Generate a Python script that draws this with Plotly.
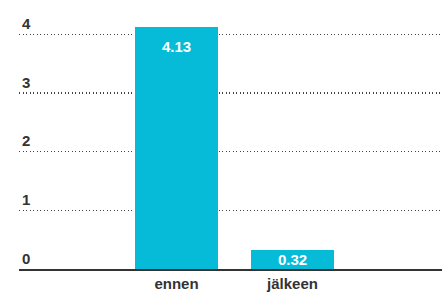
import plotly.graph_objects as go

categories = ["ennen", "jälkeen"]
values = [4.13, 0.32]
value_labels = ["4.13", "0.32"]
y_ticks = [0, 1, 2, 3, 4]
y_ticktext = ["0", "1", "2", "3", "4"]

bar_color = "#05bbd7"
text_color = "#333333"
font_family = "Liberation Sans, Arial, sans-serif"

fig = go.Figure()
fig.add_trace(go.Bar(
    x=categories,
    y=values,
    marker=dict(color=bar_color, line=dict(width=0)),
    width=0.716,
    hoverinfo="skip",
))

# value labels inside bars
for c, v, t in zip(categories, values, value_labels):
    fig.add_annotation(
        x=c, y=max(v - 0.34, v / 2), text="<b>" + t + "</b>",
        showarrow=False, yanchor="middle", xanchor="center",
        font=dict(color="white", size=15, family=font_family),
    )

fig.update_layout(
    width=442, height=296,
    margin=dict(l=19, r=0, t=5, b=27),
    paper_bgcolor="white", plot_bgcolor="white",
    showlegend=False,
    bargap=0,
    font=dict(family=font_family, color=text_color, size=15),
    xaxis=dict(
        type="category",
        range=[-1.358, 2.289],
        showgrid=False, zeroline=False,
        showline=True, linecolor="#333333", linewidth=2,
        ticks="", tickfont=dict(size=15, color=text_color, weight="bold"),
        ticklabelstandoff=0,
    ),
    yaxis=dict(
        range=[0, 4.5],
        tickvals=y_ticks, ticktext=y_ticktext,
        ticklabelposition="inside top",
        showgrid=True, gridcolor="#444444", gridwidth=1.2, griddash="1px,2.5px",
        zeroline=False, showline=False, ticks="",
        tickfont=dict(size=15, color=text_color, weight="bold"),
    ),
)

fig.write_html(
    "out.html",
    config={"displayModeBar": False, "staticPlot": True},
    post_script="document.body.style.margin='0';document.body.style.padding='0';",
)
